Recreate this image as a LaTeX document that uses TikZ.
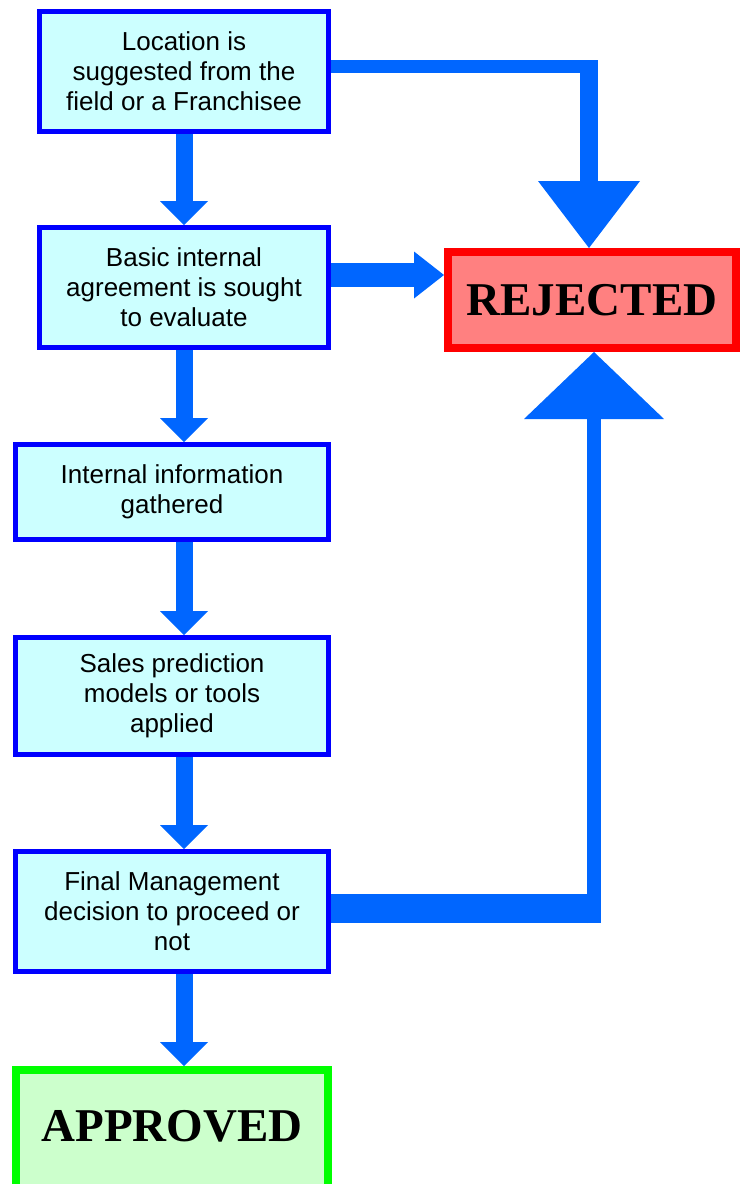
\documentclass[tikz,border=0pt]{standalone}
\usepackage{fontspec}
\setmainfont{Liberation Sans}
\newfontfamily\serifbold{Liberation Serif}
\usetikzlibrary{arrows.meta}
\definecolor{flowblue}{HTML}{0066FF}
\definecolor{boxblue}{HTML}{0000FF}
\definecolor{boxfill}{HTML}{CCFFFF}
\definecolor{rejred}{HTML}{FF0000}
\definecolor{rejfill}{HTML}{FF8080}
\definecolor{okgreen}{HTML}{00FF00}
\definecolor{okfill}{HTML}{CCFFCC}

\begin{document}
\begin{tikzpicture}[x=1pt,y=-1pt,
  procbox/.style={draw=boxblue,fill=boxfill,line width=5pt,inner sep=0pt,
    minimum width=313pt,minimum height=120pt,align=center,
    font=\fontsize{26}{30}\selectfont},
  endbox/.style={line width=8pt,inner sep=0pt,minimum width=288pt,minimum height=96pt,
    font=\serifbold\bfseries\fontsize{47}{50}\selectfont},
  flow/.style={draw=flowblue,line width=17pt,
    -{Triangle[length=24pt,width=48pt,line width=0pt]}},
  shaft/.style={draw=flowblue}]
  \useasboundingbox (0,0) rectangle (740,1184);
  % ===== main column =====
  \node[procbox,minimum width=289pt] (loc) at (184,71.5)
    {Location is\\suggested from the\\field or a Franchisee};
  \node[procbox,minimum width=289pt] (basic) at (184,287.5)
    {Basic internal\\agreement is sought\\to evaluate};
  \node[procbox,minimum height=95pt] (info) at (172,492)
    {Internal information\\gathered};
  \node[procbox,minimum height=117pt] (sales) at (172,696)
    {Sales prediction\\models or tools\\applied};
  \node[procbox] (fin) at (172,911.5)
    {Final Management\\decision to proceed or\\not};
  % box runs on past the bottom edge
  \node[endbox,draw=okgreen,fill=okfill,minimum width=312pt,minimum height=140pt,
    text depth=29pt] (appr) at (172,1140) {APPROVED};
  % ===== outcome =====
  \node[endbox,draw=rejred,fill=rejfill] (rej) at (592,300) {REJECTED};
  % down the column
  \draw[flow] (loc.south) -- (basic.north);
  \draw[flow] (basic.south) -- (basic.south |- info.north);
  \draw[flow] (info.south -| basic.south) -- (sales.north -| basic.south);
  \draw[flow] (sales.south -| basic.south) -- (fin.north -| basic.south);
  \draw[flow] (fin.south -| basic.south) -- (appr.north -| basic.south);
  % to the rejected box
  \coordinate (topbend) at (589,66.5);
  \draw[shaft,line width=13pt] ([yshift=5pt]loc.east) -- ([xshift=9pt]topbend);
  \draw[flow,line width=18pt,-{Triangle[length=67pt,width=102pt,line width=0pt]}]
    ([yshift=6.5pt]topbend) -- (topbend |- rej.north);
  \draw[flow,line width=24pt,-{Triangle[length=30pt,width=47pt,line width=0pt]}]
    ([yshift=12.5pt]basic.east) coordinate (bs) -- (bs -| rej.west);
  \coordinate (lowbend) at (594,908.5);
  \draw[shaft,line width=29pt] ([yshift=3pt]fin.east) -- ([xshift=7pt]lowbend);
  \draw[flow,line width=14pt,-{Triangle[length=67pt,width=140pt,line width=0pt]}]
    ([yshift=-14.5pt]lowbend) -- (lowbend |- rej.south);
\end{tikzpicture}
\end{document}
